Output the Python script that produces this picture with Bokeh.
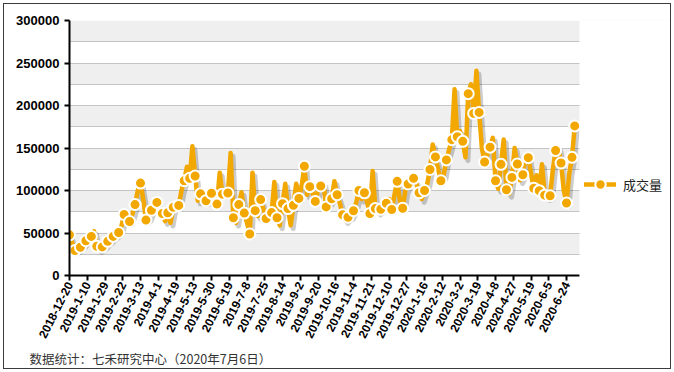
import numpy as np
from bokeh.plotting import figure
from bokeh.models import (Range1d, FixedTicker, Legend, LegendItem, Title,
                          BasicTickFormatter, ColumnDataSource, BoxAnnotation)
from bokeh.embed import file_html
from bokeh.resources import INLINE

# ---------------- data ----------------
tick_labels = ["2018-12-20", "2019-1-10", "2019-1-29", "2019-2-22", "2019-3-13",
               "2019-4-1", "2019-4-19", "2019-5-13", "2019-5-30", "2019-6-19",
               "2019-7-8", "2019-7-25", "2019-8-14", "2019-9-2", "2019-9-20",
               "2019-10-16", "2019-11-4", "2019-11-21", "2019-12-10", "2019-12-27",
               "2020-1-16", "2020-2-12", "2020-3-2", "2020-3-19", "2020-4-8",
               "2020-4-27", "2020-5-19", "2020-6-5", "2020-6-24"]

# volume on the marked trading days (every 4th trading day)
marked_values = [47800, 29300, 33200, 40900, 46000, 34400, 33600, 40200, 46000, 50600,
                 71800, 63500, 83400, 108700, 65200, 76800, 86000, 73000, 73800, 80300,
                 82500, 111500, 114300, 117000, 96100, 88000, 96700, 84000, 95700, 97000,
                 68000, 83400, 73400, 48800, 76300, 89300, 67000, 74000, 68000, 84500,
                 78700, 82600, 90700, 128500, 104500, 87200, 105300, 80700, 90300, 95000,
                 71400, 68500, 76200, 100000, 97300, 73000, 78700, 77900, 85000, 77700,
                 110800, 79100, 107700, 114300, 97300, 100000, 124700, 139500, 111500, 136000,
                 159800, 163200, 157800, 213900, 190700, 191900, 133500, 151000, 111500, 130800,
                 100900, 115400, 131200, 118500, 138600, 102700, 99800, 94500, 93800, 147000,
                 132300, 85300, 139000]

# volume on the trading days in between the marked ones
between_values = [38000, 31000, 37000, 44000, 52000, 31000, 36000, 42000, 48000, 58000,
                  75000, 72000, 100000, 90000, 68000, 80000, 78000, 64000, 62000, 84000,
                  100000, 128000, 152000, 88000, 92000, 88000, 92000, 121000, 98000, 144000,
                  62000, 98000, 62000, 121000, 70000, 78000, 75000, 110000, 59000, 108000,
                  59000, 108000, 105000, 95000, 98000, 100000, 108000, 86000, 111000, 85000,
                  65000, 70000, 86000, 90000, 86000, 123000, 75000, 80000, 90000, 95000,
                  88000, 100000, 112000, 108000, 90000, 108000, 154000, 125000, 118000, 148000,
                  219000, 170000, 139000, 225000, 241000, 150000, 142000, 162000, 102000, 160000,
                  96000, 150000, 112000, 140000, 120000, 118000, 131000, 92000, 125000, 150000,
                  100000, 120000]

final_value = 176000

series_name = "成交量"
footer_text = "数据统计：七禾研究中心（2020年7月6日）"

y_ticks = [0, 50000, 100000, 150000, 200000, 250000, 300000]
grid_ticks = list(range(0, 300001, 25000))

# ---------------- build series ----------------
DAYS_PER_STEP = 2
DAYS_PER_TICK = 13
X_AXIS_END = 373.5          # end of the drawn time axis (trading days)
FRAME_W_AXIS = 510          # px covered by the time axis
FRAME_W = 601               # px of the whole frame (axis + legend area)
X_RANGE_END = X_AXIS_END * FRAME_W / FRAME_W_AXIS

series = []
for i, m in enumerate(marked_values):
    series.append(m)
    if i < len(between_values):
        series.append(between_values[i])
series.append(final_value)

days = np.arange(len(series)) * DAYS_PER_STEP
vals = np.array(series, dtype=float)
marker_idx = list(range(0, len(series), 2))
if (len(series) - 1) % 2:
    marker_idx.append(len(series) - 1)

src_line = ColumnDataSource(dict(x=days, y=vals))
src_shadow = ColumnDataSource(dict(x=days + 1.8, y=vals - 3800))
src_mark = ColumnDataSource(dict(x=days[marker_idx], y=vals[marker_idx]))

tick_days = [i * DAYS_PER_TICK for i in range(len(tick_labels))]

ORANGE = "#F2A800"

# ---------------- figure ----------------
p = figure(width=668, height=366, output_backend="svg", toolbar_location=None,
           x_range=Range1d(0, X_RANGE_END), y_range=Range1d(0, 300000),
           min_border_left=65, min_border_right=2, min_border_top=16,
           min_border_bottom=91)
p.outline_line_color = None
p.background_fill_color = "white"
p.border_fill_color = "white"
p.styles = {"margin-left": "3px", "margin-top": "3px",
            "border": "1px solid #3c3c3c", "box-sizing": "border-box"}

# grid with alternating bands
p.xgrid.visible = False
p.ygrid.ticker = FixedTicker(ticks=grid_ticks)
p.ygrid.grid_line_color = "#C4C4C4"
p.ygrid.grid_line_width = 1
p.ygrid.band_fill_color = "#EFEFEF"
p.ygrid.band_fill_alpha = 1.0

# shadow + line + markers
p.line("x", "y", source=src_shadow, line_color="#000000", line_alpha=0.2,
       line_width=5, line_join="round", line_cap="round")
line_r = p.line("x", "y", source=src_line, line_color=ORANGE, line_width=4.5,
                line_join="round", line_cap="round")
mark_r = p.scatter("x", "y", source=src_mark, marker="circle", size=11,
                   fill_color=ORANGE, line_color="white", line_width=2)

# blank area right of the time axis (holds the legend)
p.add_layout(BoxAnnotation(left=X_AXIS_END, fill_color="white", fill_alpha=1.0,
                           line_color=None))

# axes
for ax in (p.xaxis[0], p.yaxis[0]):
    ax.axis_line_color = "black"
    ax.axis_line_width = 2
    ax.major_tick_line_color = "black"
    ax.major_tick_line_width = 2
    ax.major_tick_out = 5
    ax.major_tick_in = 0
    ax.minor_tick_out = 0
    ax.minor_tick_in = 0
    ax.major_label_text_font = "Liberation Sans"
    ax.major_label_text_font_style = "bold"
    ax.major_label_text_color = "black"

p.yaxis.ticker = FixedTicker(ticks=y_ticks)
p.yaxis.formatter = BasicTickFormatter(use_scientific=False)
p.yaxis.major_label_text_font_size = "13px"
p.yaxis.major_label_standoff = 5

p.xaxis.ticker = FixedTicker(ticks=tick_days)
p.xaxis.bounds = (0, X_AXIS_END)
p.xaxis.major_label_overrides = {d: lab for d, lab in zip(tick_days, tick_labels)}
p.xaxis.major_label_orientation = 1.1
p.xaxis.major_label_text_font_size = "12px"
p.xaxis.major_label_standoff = 2

# legend (inside the blank area)
legend = Legend(items=[LegendItem(label=series_name, renderers=[line_r, mark_r])],
                location=(515, 78), glyph_width=32, glyph_height=26,
                label_standoff=7, padding=0, margin=0, spacing=0,
                border_line_color=None, background_fill_alpha=0,
                label_text_font="Noto Sans CJK SC", label_text_font_size="13px",
                label_text_color="#222222")
p.add_layout(legend)

# footer (below panel)
p.add_layout(Title(text=footer_text, align="left", offset=-40, standoff=5,
                   text_font="Noto Sans CJK SC", text_font_size="12.5px",
                   text_font_style="normal", text_color="#333333"), "below")

open("out.html", "w").write(file_html(p, INLINE))
